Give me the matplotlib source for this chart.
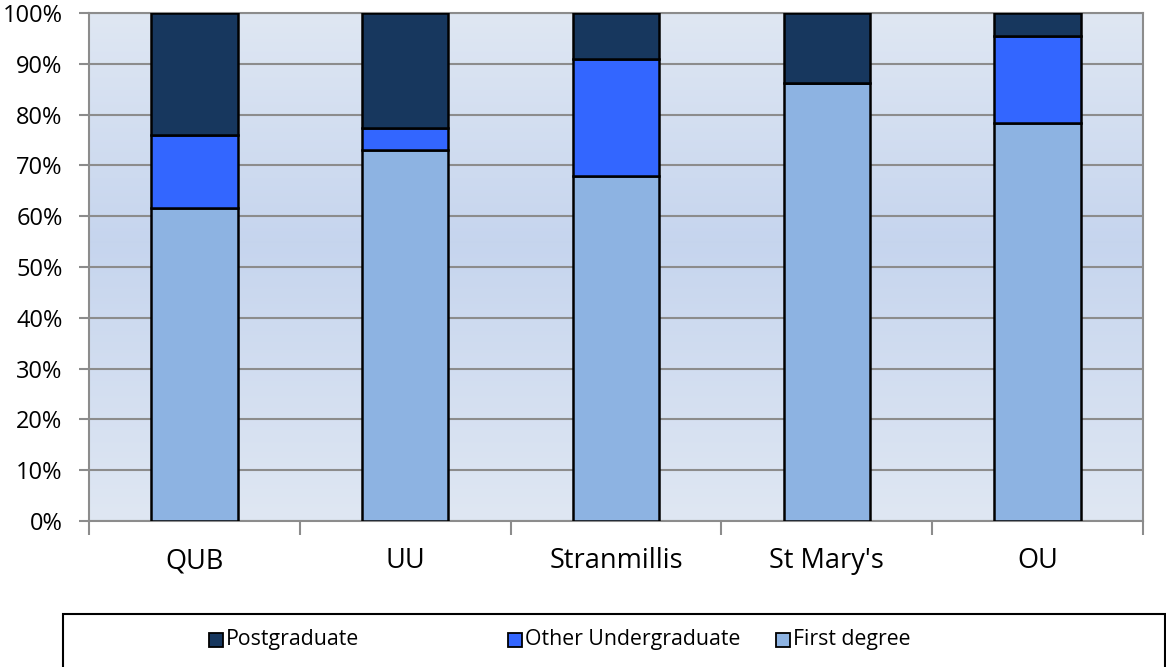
import numpy as np
import matplotlib.pyplot as plt
from matplotlib.patches import Rectangle
from matplotlib.ticker import PercentFormatter, FixedLocator

plt.rcParams['font.family'] = ['Open Sans', 'DejaVu Sans']

# Data (percent of students)
institutions = ['QUB', 'UU', 'Stranmillis', "St Mary's", 'OU']
first_degree = [61.7, 73.0, 67.9, 86.2, 78.4]
other_ug = [14.3, 4.4, 23.0, 0.0, 17.0]
postgrad = [24.0, 22.6, 9.1, 13.8, 4.6]

c_post = '#17375e'
c_other = '#3366ff'
c_first = '#8db3e2'

fig = plt.figure(figsize=(11.66, 6.67), dpi=100)
ax = fig.add_axes([89 / 1166, 1 - 521 / 667, 1054 / 1166, 508 / 667])

x = np.arange(len(institutions))
w = 0.41

# gradient background
grad = np.interp(np.linspace(0, 1, 256), [0, 0.45, 1], [0, 1, 0])
top = np.array([0.875, 0.906, 0.953])
mid = np.array([0.776, 0.835, 0.933])
img = top[None, :] + (mid - top)[None, :] * grad[:, None]
ax.imshow(img[:, None, :], extent=[-0.5, len(x) - 0.5, 0, 100], aspect='auto', zorder=0)

bottom2 = np.array(first_degree) + np.array(other_ug)
ax.bar(x, first_degree, w, color=c_first, edgecolor='black', linewidth=1.8, zorder=3)
ax.bar(x, other_ug, w, bottom=first_degree, color=c_other, edgecolor='black', linewidth=1.8, zorder=3)
ax.bar(x, postgrad, w, bottom=bottom2, color=c_post, edgecolor='black', linewidth=1.8, zorder=3)

ax.set_xlim(-0.5, len(x) - 0.5)
ax.set_ylim(0, 100)
ax.set_yticks(np.arange(0, 101, 10))
ax.yaxis.set_major_formatter(PercentFormatter(decimals=0))
ax.yaxis.grid(True, color='#8c8c8c', linewidth=1.5, zorder=1)
ax.set_axisbelow(True)

ax.set_xticks(x)
ax.set_xticklabels(institutions, fontsize=19.5)
ax.tick_params(axis='x', which='major', length=0, pad=19)
ax.xaxis.set_minor_locator(FixedLocator(np.arange(-0.5, len(x), 1)))
ax.tick_params(axis='x', which='minor', length=10, width=1.5, color='#8c8c8c')
ax.tick_params(axis='y', length=7, width=1.5, color='#8c8c8c', labelsize=17, pad=12)

for s in ax.spines.values():
    s.set_color('#8c8c8c')
    s.set_linewidth(1.5)

# legend box
fig.patches.append(Rectangle((63 / 1166, -0.05), (1165 - 63) / 1166, 1 - 614 / 667 + 0.05,
                             transform=fig.transFigure, fill=False, edgecolor='black', linewidth=1.5))
legend_items = [('Postgraduate', c_post, 216), ('Other Undergraduate', c_other, 515), ('First degree', c_first, 783)]
ly = 1 - 640 / 667
for label, col, px in legend_items:
    fig.patches.append(Rectangle(((px - 7) / 1166, ly - 7 / 667), 14 / 1166, 14 / 667,
                                 transform=fig.transFigure, facecolor=col, edgecolor='black', linewidth=1.3))
    fig.text((px + 10) / 1166, ly, label, fontsize=15.3, va='center', ha='left')

fig.savefig('out.png', dpi=100)
